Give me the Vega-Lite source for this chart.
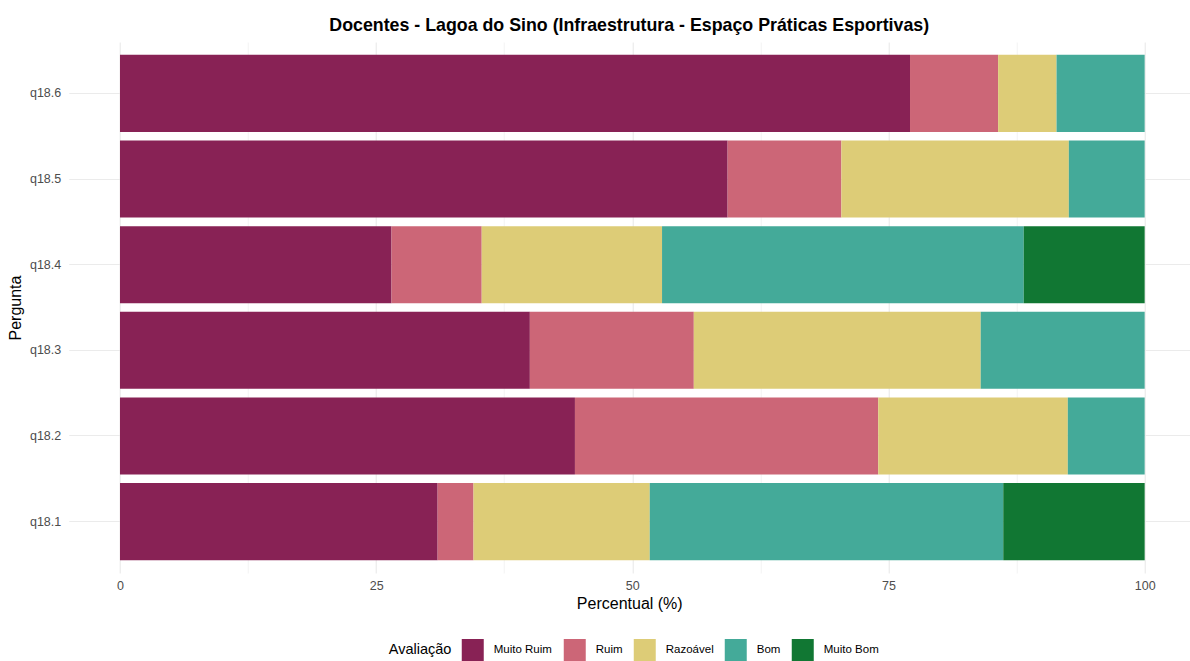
{
  "$schema": "https://vega.github.io/schema/vega-lite/v6.json",
  "width": 1121,
  "height": 531,
  "autosize": "none",
  "padding": {"left": 68.75, "top": 42, "right": 0, "bottom": 88},
  "background": "white",
  "config": {
    "font": "Liberation Sans",
    "view": {"stroke": null}
  },
  "title": {
    "text": "Docentes - Lagoa do Sino (Infraestrutura - Espaço Práticas Esportivas)",
    "fontSize": 17.8,
    "fontWeight": "bold",
    "color": "#000000",
    "anchor": "middle",
    "offset": 7
  },
  "data": {
    "values": [
      {"pergunta": "q18.6", "avaliacao": "Muito Ruim", "ordem": 1, "pct": 77.1},
      {"pergunta": "q18.6", "avaliacao": "Ruim", "ordem": 2, "pct": 8.6},
      {"pergunta": "q18.6", "avaliacao": "Razoável", "ordem": 3, "pct": 5.7},
      {"pergunta": "q18.6", "avaliacao": "Bom", "ordem": 4, "pct": 8.6},
      {"pergunta": "q18.5", "avaliacao": "Muito Ruim", "ordem": 1, "pct": 59.3},
      {"pergunta": "q18.5", "avaliacao": "Ruim", "ordem": 2, "pct": 11.1},
      {"pergunta": "q18.5", "avaliacao": "Razoável", "ordem": 3, "pct": 22.2},
      {"pergunta": "q18.5", "avaliacao": "Bom", "ordem": 4, "pct": 7.4},
      {"pergunta": "q18.4", "avaliacao": "Muito Ruim", "ordem": 1, "pct": 26.5},
      {"pergunta": "q18.4", "avaliacao": "Ruim", "ordem": 2, "pct": 8.8},
      {"pergunta": "q18.4", "avaliacao": "Razoável", "ordem": 3, "pct": 17.6},
      {"pergunta": "q18.4", "avaliacao": "Bom", "ordem": 4, "pct": 35.3},
      {"pergunta": "q18.4", "avaliacao": "Muito Bom", "ordem": 5, "pct": 11.8},
      {"pergunta": "q18.3", "avaliacao": "Muito Ruim", "ordem": 1, "pct": 40.0},
      {"pergunta": "q18.3", "avaliacao": "Ruim", "ordem": 2, "pct": 16.0},
      {"pergunta": "q18.3", "avaliacao": "Razoável", "ordem": 3, "pct": 28.0},
      {"pergunta": "q18.3", "avaliacao": "Bom", "ordem": 4, "pct": 16.0},
      {"pergunta": "q18.2", "avaliacao": "Muito Ruim", "ordem": 1, "pct": 44.4},
      {"pergunta": "q18.2", "avaliacao": "Ruim", "ordem": 2, "pct": 29.6},
      {"pergunta": "q18.2", "avaliacao": "Razoável", "ordem": 3, "pct": 18.5},
      {"pergunta": "q18.2", "avaliacao": "Bom", "ordem": 4, "pct": 7.5},
      {"pergunta": "q18.1", "avaliacao": "Muito Ruim", "ordem": 1, "pct": 31.0},
      {"pergunta": "q18.1", "avaliacao": "Ruim", "ordem": 2, "pct": 3.5},
      {"pergunta": "q18.1", "avaliacao": "Razoável", "ordem": 3, "pct": 17.2},
      {"pergunta": "q18.1", "avaliacao": "Bom", "ordem": 4, "pct": 34.5},
      {"pergunta": "q18.1", "avaliacao": "Muito Bom", "ordem": 5, "pct": 13.8}
    ]
  },
  "mark": {"type": "bar", "strokeWidth": 0},
  "encoding": {
    "y": {
      "field": "pergunta",
      "type": "nominal",
      "sort": "descending",
      "scale": {"paddingInner": 0.1, "paddingOuter": 0.15},
      "axis": {
        "title": "Pergunta",
        "titleFontSize": 16,
        "titleFontWeight": "normal",
        "titleColor": "#000000",
        "titlePadding": 6,
        "labelFontSize": 12.5,
        "labelColor": "#4d4d4d",
        "labelPadding": 8,
        "ticks": false,
        "domain": false,
        "grid": true,
        "gridColor": "#ebebeb",
        "gridWidth": 1.2,
        "bandPosition": 0.5
      }
    },
    "x": {
      "field": "pct",
      "type": "quantitative",
      "stack": "zero",
      "scale": {"domain": [-5, 104.4], "nice": false, "zero": false},
      "axis": {
        "title": "Percentual (%)",
        "titleFontSize": 16,
        "titleFontWeight": "normal",
        "titleColor": "#000000",
        "titlePadding": 4,
        "values": [0, 12.5, 25, 37.5, 50, 62.5, 75, 87.5, 100],
        "labelExpr": "datum.value % 25 === 0 ? datum.label : ''",
        "labelOverlap": false,
        "labelFlush": false,
        "labelFontSize": 12.5,
        "labelColor": "#4d4d4d",
        "labelPadding": 6,
        "ticks": false,
        "domain": false,
        "grid": true,
        "gridColor": "#ebebeb",
        "gridWidth": {"condition": {"test": "datum.value % 25 === 0", "value": 1.2}, "value": 0.6}
      }
    },
    "color": {
      "field": "avaliacao",
      "type": "nominal",
      "scale": {
        "domain": ["Muito Ruim", "Ruim", "Razoável", "Bom", "Muito Bom"],
        "range": ["#882255", "#CC6677", "#DDCC77", "#44AA99", "#117733"]
      },
      "legend": {
        "title": "Avaliação",
        "orient": "none",
        "legendX": 320,
        "legendY": 597,
        "direction": "horizontal",
        "titleOrient": "left",
        "titleFontSize": 14.5,
        "titleFontWeight": "normal",
        "titleColor": "#000000",
        "titlePadding": 10,
        "titleBaseline": "middle",
        "titleAnchor": "middle",
        "labelFontSize": 11.5,
        "labelColor": "#000000",
        "labelOffset": 10,
        "symbolType": "square",
        "symbolSize": 484,
        "symbolStrokeWidth": 0,
        "symbolOpacity": 1,
        "columnPadding": 11
      }
    },
    "order": {"field": "ordem", "type": "quantitative", "sort": "ascending"}
  }
}
